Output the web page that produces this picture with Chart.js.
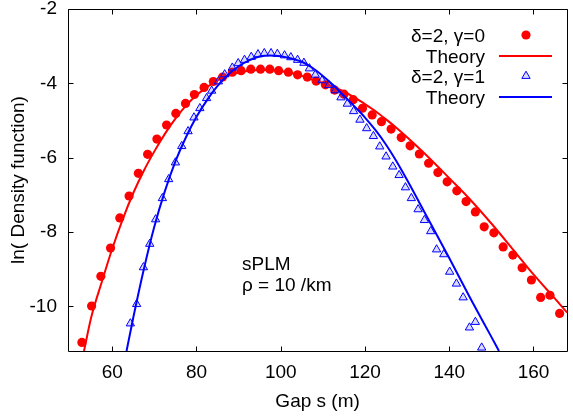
<!DOCTYPE html>
<html><head><meta charset="utf-8">
<script src="https://cdn.jsdelivr.net/npm/chart.js@4.4.0/dist/chart.umd.min.js"></script>
<style>html,body{margin:0;padding:0;background:#fff;}canvas{display:block;}</style>
</head><body>
<canvas id="c" width="573" height="417"></canvas>
<script>
// ---- data ----
const redX = [52.8,55.1,57.3,59.6,61.8,64.0,66.2,68.4,70.6,72.9,75.1,77.4,79.5,81.8,84.0,86.2,88.5,90.6,92.9,95.2,97.4,99.5,101.8,104.0,106.3,108.4,110.6,112.8,115.0,117.2,119.4,121.7,123.9,126.2,128.6,130.7,132.9,135.1,137.3,139.5,141.8,144.0,146.2,148.3,150.6,152.8,155.1,157.3,159.5,161.7,163.9,166.2];
const redY = [-10.97,-9.99,-9.19,-8.43,-7.62,-7.03,-6.42,-5.91,-5.50,-5.12,-4.81,-4.54,-4.30,-4.11,-3.95,-3.83,-3.70,-3.66,-3.62,-3.62,-3.62,-3.66,-3.70,-3.77,-3.83,-3.94,-4.04,-4.18,-4.29,-4.44,-4.67,-4.85,-5.03,-5.23,-5.46,-5.68,-5.90,-6.15,-6.40,-6.65,-6.89,-7.18,-7.46,-7.86,-8.02,-8.40,-8.62,-8.96,-9.29,-9.76,-9.70,-10.19];
const redTheoryX = [53.3,55,57.5,60,62.5,65,67.5,70,72.5,75,77.5,80,82.5,85,87.5,90,92.5,95,97.5,100,102.5,105,107.5,110,112.5,115,117.5,120,122.5,125,127.5,130,135,140,145,150,155,160,165,168];
const redTheoryY = [-11.2,-10.3,-9.35,-8.45,-7.65,-6.95,-6.35,-5.83,-5.36,-4.95,-4.6,-4.32,-4.1,-3.92,-3.8,-3.71,-3.66,-3.64,-3.64,-3.67,-3.72,-3.8,-3.9,-3.99,-4.1,-4.22,-4.38,-4.56,-4.75,-4.97,-5.2,-5.45,-5.98,-6.55,-7.13,-7.77,-8.45,-9.14,-9.78,-10.17];
const blueX = [64.3,65.8,67.4,68.9,70.3,71.9,73.4,75.0,76.5,78.0,79.4,80.8,82.4,83.6,85.2,86.7,88.5,89.9,91.4,93.0,94.6,96.1,97.7,99.2,100.9,102.4,104.0,105.5,106.8,108.2,109.8,111.4,112.9,114.3,115.8,117.3,118.8,120.4,122.0,123.5,125.0,126.6,128.1,129.6,131.0,132.6,134.1,135.6,137.0,138.7,140.1,141.7,143.3,144.8,146.2,147.7];
const blueY = [-10.46,-9.94,-8.95,-8.32,-7.66,-7.09,-6.58,-6.13,-5.69,-5.29,-4.92,-4.67,-4.40,-4.20,-3.95,-3.76,-3.58,-3.46,-3.37,-3.29,-3.22,-3.19,-3.19,-3.21,-3.25,-3.30,-3.37,-3.45,-3.60,-3.77,-3.92,-4.05,-4.19,-4.38,-4.55,-4.75,-4.98,-5.21,-5.42,-5.70,-5.97,-6.24,-6.47,-6.80,-7.09,-7.39,-7.68,-7.98,-8.47,-8.60,-9.07,-9.39,-9.76,-10.57,-10.42,-11.11];
const blueTheoryX = [63.4,65,67.5,70,72.5,75,77.5,80,82.5,85,87.5,90,92.5,95,97.5,100,102.5,105,107.5,110,112.5,115,117.5,120,122.5,125,127.5,130,135,140,145,150,151.8];
const blueTheoryY = [-11.2,-10.3,-9.0,-7.85,-6.9,-6.1,-5.45,-4.9,-4.45,-4.07,-3.77,-3.54,-3.38,-3.28,-3.25,-3.27,-3.33,-3.42,-3.58,-3.8,-4.05,-4.33,-4.62,-4.92,-5.26,-5.65,-6.1,-6.6,-7.65,-8.7,-9.78,-10.82,-11.2];

const xTicks = [60,80,100,120,140,160];
const xTickLabels = ["60","80","100","120","140","160"];
const yTicks = [-2,-4,-6,-8,-10];
const yTickLabels = ["-2","-4","-6","-8","-10"];
const legendLabels = ["\u03b4=2, \u03b3=0","Theory","\u03b4=2, \u03b3=1","Theory"];
const noteLines = ["sPLM","\u03c1 = 10 /km"];
const xTitle = "Gap s (m)";
const yTitle = "ln( Density function)";

const FONT = "'Liberation Sans', Arial, Helvetica, sans-serif";
const RED = "#ff0000", BLUE = "#0000ff";
const pts = (xs, ys) => xs.map((x, i) => ({x, y: ys[i]}));

const datasets = [
  {label: legendLabels[0], data: pts(redX, redY), showLine: false, pointStyle: 'circle', pointRadius: 4.6,
   backgroundColor: RED, borderColor: RED, pointBorderWidth: 0, order: 3},
  {label: legendLabels[1], data: pts(redTheoryX, redTheoryY), showLine: true, pointRadius: 0, borderColor: RED,
   borderWidth: 2, cubicInterpolationMode: 'monotone', fill: false, order: 2},
  {label: legendLabels[2], data: pts(blueX, blueY), showLine: false, pointStyle: 'triangle', pointRadius: 4.8,
   backgroundColor: 'rgba(90,90,255,0.22)', borderColor: BLUE, pointBorderWidth: 1, order: 1},
  {label: legendLabels[3], data: pts(blueTheoryX, blueTheoryY), showLine: true, pointRadius: 0, borderColor: BLUE,
   borderWidth: 2, cubicInterpolationMode: 'monotone', fill: false, order: 0}
];

const frame = {
  id: 'frame',
  afterDatasetsDraw(chart) {
    const {ctx, chartArea: a, scales: {x, y}} = chart;
    ctx.save();
    ctx.strokeStyle = '#000'; ctx.lineWidth = 1;
    const L = Math.round(a.left) + 0.5, T = Math.round(a.top) + 0.5;
    const R = Math.round(a.right) + 0.5, B = Math.round(a.bottom) + 0.5;
    ctx.beginPath();
    ctx.moveTo(L, T); ctx.lineTo(R, T); ctx.lineTo(R, B); ctx.lineTo(L, B); ctx.closePath();
    ctx.stroke();
    const tl = 5;
    ctx.beginPath();
    xTicks.forEach(v => { const p = Math.round(x.getPixelForValue(v)) + 0.5;
      ctx.moveTo(p, B); ctx.lineTo(p, B - tl); ctx.moveTo(p, T); ctx.lineTo(p, T + tl); });
    yTicks.forEach(v => { const p = Math.round(y.getPixelForValue(v)) + 0.5;
      ctx.moveTo(L, p); ctx.lineTo(L + tl, p); ctx.moveTo(R, p); ctx.lineTo(R - tl, p); });
    ctx.stroke();

    // annotation
    ctx.fillStyle = '#000';
    ctx.font = "19px " + FONT;
    ctx.textAlign = 'left'; ctx.textBaseline = 'alphabetic';
    ctx.fillText(noteLines[0], 242, 269.5);
    ctx.fillText(noteLines[1], 242, 291);

    // legend
    const rows = [35, 56, 76, 97];
    const textRight = 485, sampleX = 526, lineX0 = 499, lineX1 = 552;
    ctx.textAlign = 'right';
    chart.data.datasets.forEach((ds, i) => {
      const ry = rows[i];
      ctx.fillStyle = '#000';
      ctx.fillText(ds.label, textRight, ry + 7);
      if (ds.showLine) {
        ctx.strokeStyle = ds.borderColor; ctx.lineWidth = ds.borderWidth;
        ctx.beginPath(); ctx.moveTo(lineX0, ry); ctx.lineTo(lineX1, ry); ctx.stroke();
      } else {
        ctx.fillStyle = ds.backgroundColor; ctx.strokeStyle = ds.borderColor;
        ctx.lineWidth = ds.pointBorderWidth;
        Chart.helpers.drawPoint(ctx, {pointStyle: ds.pointStyle, radius: ds.pointRadius,
          borderWidth: ds.pointBorderWidth, rotation: 0}, sampleX, ry);
      }
    });
    ctx.restore();
  }
};

new Chart(document.getElementById('c'), {
  type: 'scatter',
  data: {datasets},
  options: {
    responsive: false, animation: false, devicePixelRatio: 1,
    layout: {padding: {top: 9, left: 0, right: 0, bottom: 0}},
    plugins: {legend: {display: false}, tooltip: {enabled: false}},
    scales: {
      x: {
        type: 'linear', min: 49.5, max: 168,
        grid: {display: false, drawTicks: false}, border: {display: false},
        afterBuildTicks: s => { s.ticks = xTicks.map(v => ({value: v})); },
        ticks: {padding: 10, color: '#000', font: {size: 19, family: FONT}, maxRotation: 0, autoSkip: false,
                callback: (v, i) => xTickLabels[i]},
        title: {display: true, text: xTitle, color: '#000', font: {size: 19, family: FONT}, padding: {top: 0, bottom: 4}},
        afterFit: s => { s.height = 66; s.paddingLeft = 0; s.paddingRight = 0; }
      },
      y: {
        type: 'linear', min: -11.2, max: -2,
        grid: {display: false, drawTicks: false}, border: {display: false},
        afterBuildTicks: s => { s.ticks = yTicks.map(v => ({value: v})); },
        ticks: {padding: 11, color: '#000', font: {size: 19, family: FONT}, autoSkip: false,
                callback: (v, i) => yTickLabels[i]},
        title: {display: true, text: yTitle, color: '#000', font: {size: 19, family: FONT}, padding: {top: 7, bottom: 0}},
        afterFit: s => { s.width = 68; s.paddingTop = 0; s.paddingBottom = 0; }
      }
    }
  },
  plugins: [frame]
});
</script>
</body></html>
